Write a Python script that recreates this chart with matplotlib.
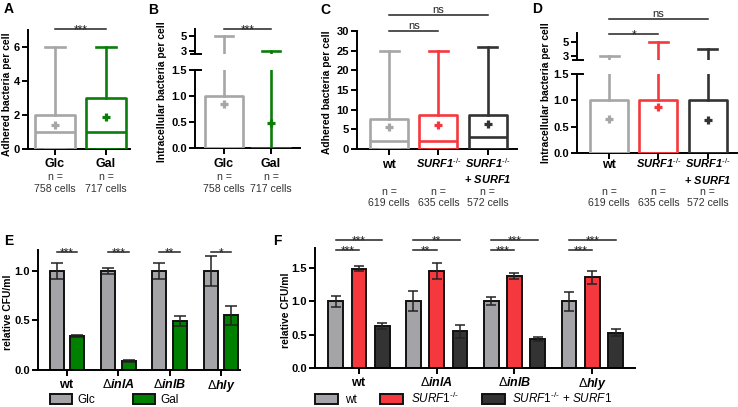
import numpy as np
import matplotlib
matplotlib.use("Agg")
import matplotlib.pyplot as plt
from matplotlib import transforms

plt.rcParams["font.family"] = ["Liberation Sans", "DejaVu Sans"]
plt.rcParams["mathtext.fontset"] = "custom"
plt.rcParams["mathtext.rm"] = "Liberation Sans"
plt.rcParams["mathtext.it"] = "Liberation Sans:italic"
plt.rcParams["mathtext.bf"] = "Liberation Sans:bold"
plt.rcParams["mathtext.bfit"] = "Liberation Sans:italic:bold"
plt.rcParams["axes.linewidth"] = 1.4

# ---- data ----
# A: adhered bacteria, Glc vs Gal
a_groups = ["Glc", "Gal"]
a_n = [758, 717]
a_q1 = [0, 0]
a_med = [1, 1]
a_q3 = [2, 3]
a_lo = [0, 0]
a_hi = [6, 6]
a_mean = [1.4, 1.9]

# B: intracellular bacteria, Glc vs Gal
b_q1 = [0, 0]
b_med = [0, 0]
b_q3 = [1, 0]
b_lo = [0, 0]
b_hi = [5, 3]
b_mean = [0.85, 0.48]

# C: adhered bacteria, wt / SURF1-/- / rescue
c_n = [619, 635, 572]
c_q1 = [0, 0, 0]
c_med = [2, 2, 3]
c_q3 = [7.5, 8.75, 8.75]
c_lo = [0, 0, 0]
c_hi = [25, 25, 26]
c_mean = [5.5, 6.0, 6.4]

# D: intracellular bacteria, wt / SURF1-/- / rescue
d_q1 = [0, 0, 0]
d_med = [0, 0, 0]
d_q3 = [1, 1, 1]
d_lo = [0, 0, 0]
d_hi = [3, 5, 4]
d_mean = [0.65, 0.87, 0.62]

# E: relative CFU/ml, Glc vs Gal
strains = [r"$\mathbf{wt}$", r"$\Delta\mathbfit{inlA}$", r"$\Delta\mathbfit{inlB}$", r"$\Delta\mathbfit{hly}$"]
e_glc = [1.0, 1.0, 1.0, 1.0]
e_glc_err = [0.08, 0.03, 0.08, 0.15]
e_gal = [0.34, 0.09, 0.49, 0.55]
e_gal_err = [0.01, 0.01, 0.05, 0.1]
e_sig = ["***", "***", "**", "*"]

# F: relative CFU/ml, wt / SURF1-/- / rescue
f_wt = [1.0, 1.0, 1.0, 1.0]
f_wt_err = [0.08, 0.15, 0.06, 0.14]
f_ko = [1.49, 1.45, 1.38, 1.36]
f_ko_err = [0.04, 0.12, 0.05, 0.1]
f_res = [0.63, 0.55, 0.44, 0.53]
f_res_err = [0.04, 0.1, 0.03, 0.05]
f_sig_ko = ["***", "**", "***", "***"]
f_sig_res = ["***", "**", "***", "***"]

GRAY = "#a6a6a6"
GREEN = "#0a7d0a"
RED = "#f5383d"
DARK = "#333333"
BAR_GRAY = "#a3a3a8"

W, H = 738, 407
fig = plt.figure(figsize=(W / 100, H / 100), dpi=100)


def add_ax(left, top, right, bottom):
    return fig.add_axes([left / W, 1 - bottom / H, (right - left) / W, (bottom - top) / H])


def style(ax, yticks):
    ax.spines[["top", "right"]].set_visible(False)
    ax.set_yticks(yticks)
    ax.tick_params(width=1.4, length=4.5, labelsize=8, pad=1.5)
    for t in ax.get_yticklabels():
        t.set_fontweight("bold")


def make_stats(q1, med, q3, lo, hi, mean):
    return [dict(q1=a, med=b, q3=c, whislo=d, whishi=e, mean=f)
            for a, b, c, d, e, f in zip(q1, med, q3, lo, hi, mean)]


def draw_boxes(ax, stats, colors, width):
    for i, (s, c) in enumerate(zip(stats, colors)):
        lp = dict(color=c, lw=1.9)
        ax.bxp([s], positions=[i], widths=width, showmeans=True, showfliers=False,
               boxprops=lp, medianprops=lp, whiskerprops=lp, capprops=lp,
               meanprops=dict(marker="+", markeredgecolor=c, markersize=6, markeredgewidth=2.3),
               manage_ticks=False, zorder=3)


def sig(ax, x1, x2, y, s, fs=8.5, dy=-4):
    ax.plot([x1, x2], [y, y], color="#222222", lw=1.1, clip_on=False)
    ax.annotate(s, xy=((x1 + x2) / 2, y), xytext=(0, dy), textcoords="offset pixels",
                ha="center", va="baseline", fontsize=fs, color="#222222", annotation_clip=False)


def col_text(ax, x, ypx, s, **kw):
    tr = transforms.blended_transform_factory(ax.transData, fig.transFigure)
    ax.text(x, 1 - ypx / H, s, transform=tr, ha="center", va="center", **kw)


def break_marks(upper, lower, wpx):
    k = 6 / wpx
    upper.plot([-k * 0.7, k], [0, 0], transform=upper.transAxes, color="k", lw=1.4, clip_on=False)
    lower.plot([0, k], [1, 1], transform=lower.transAxes, color="k", lw=1.4, clip_on=False)
    upper.spines["bottom"].set_visible(False)
    upper.tick_params(axis="x", bottom=False, labelbottom=False)


def ylabel(xpx, ypx, s, size=7.4):
    fig.text(xpx / W, 1 - ypx / H, s, rotation=90, ha="center", va="center",
             fontsize=size, fontweight="bold")


def n_labels(ax, ns, y1, y2):
    for i, n in enumerate(ns):
        col_text(ax, i, y1, "n =", fontsize=7.6, color="#333333")
        col_text(ax, i, y2, f"{n} cells", fontsize=7.6, color="#333333")


# ---- A ----
axA = add_ax(28, 30, 130, 149)
draw_boxes(axA, make_stats(a_q1, a_med, a_q3, a_lo, a_hi, a_mean), [GRAY, GREEN], 0.78)
axA.set_xlim(-0.53, 1.47)
axA.set_ylim(0, 7)
style(axA, [0, 2, 4, 6])
axA.set_xticks([0, 1], ["", ""])
for i, g in enumerate(a_groups):
    col_text(axA, i, 164, g, fontsize=9, fontweight="bold")
n_labels(axA, a_n, 177, 189)
sig(axA, 0, 1, 7.06, "***")
ylabel(7, 94, "Adhered bacteria per cell")

# ---- B ----
bstats = make_stats(b_q1, b_med, b_q3, b_lo, b_hi, b_mean)
axB = add_ax(195, 70, 300, 148.3)
axBu = add_ax(195, 29, 300, 54)
for ax in (axB, axBu):
    draw_boxes(ax, bstats, [GRAY, GREEN], 0.8)
    ax.set_xlim(-0.62, 1.62)
axB.set_ylim(0, 1.5)
axBu.set_ylim(2.6, 5.93)
style(axB, [0, 0.5, 1.0, 1.5])
style(axBu, [3, 5])
axB.set_xticks([0, 1], ["", ""])
break_marks(axBu, axB, 105)
for i, g in enumerate(a_groups):
    col_text(axB, i, 164, g, fontsize=9, fontweight="bold")
n_labels(axB, a_n, 177, 189)
sig(axBu, 0, 1, 5.93, "***")
ylabel(162, 92, "Intracellular bacteria per cell")

# ---- C ----
surf_l1 = r"$\mathbfit{SURF1}^{\text{-/-}}$"
surf_l2 = r"$\mathbf{+}\ \mathbfit{SURF1}$"
axC = add_ax(357, 31, 517, 149)
draw_boxes(axC, make_stats(c_q1, c_med, c_q3, c_lo, c_hi, c_mean), [GRAY, RED, DARK], 0.77)
axC.set_xlim(-0.65, 2.59)
axC.set_ylim(0, 30)
style(axC, [0, 5, 10, 15, 20, 25, 30])
axC.set_xticks([0, 1, 2], ["", "", ""])
col_text(axC, 0, 165, "wt", fontsize=9, fontweight="bold")
col_text(axC, 1, 163, surf_l1, fontsize=8)
col_text(axC, 2, 163, surf_l1, fontsize=8)
col_text(axC, 2, 179, surf_l2, fontsize=8)
n_labels(axC, c_n, 192, 203)
sig(axC, 0, 1, 30, "ns", fs=8, dy=2)
sig(axC, 0, 2, 34.07, "ns", fs=8, dy=2)
ylabel(327, 92, "Adhered bacteria per cell")

# ---- D ----
dstats = make_stats(d_q1, d_med, d_q3, d_lo, d_hi, d_mean)
axD = add_ax(577, 74.3, 737, 152.7)
axDu = add_ax(577, 33, 737, 60)
for ax in (axD, axDu):
    draw_boxes(ax, dstats, [GRAY, RED, DARK], 0.77)
    ax.set_xlim(-0.65, 2.59)
axD.set_ylim(0, 1.5)
axDu.set_ylim(2.44, 6.22)
style(axD, [0, 0.5, 1.0, 1.5])
style(axDu, [3, 5])
axD.set_xticks([0, 1, 2], ["", "", ""])
break_marks(axDu, axD, 160)
col_text(axD, 0, 165, "wt", fontsize=9, fontweight="bold")
col_text(axD, 1, 163, surf_l1, fontsize=8)
col_text(axD, 2, 163, surf_l1, fontsize=8)
col_text(axD, 2, 180, surf_l2, fontsize=8)
n_labels(axD, c_n, 192, 203)
sig(axDu, 0, 1, 6.08, "*")
sig(axDu, 0, 2, 8.17, "ns", fs=8, dy=2)
ylabel(546, 93, "Intracellular bacteria per cell")

# ---- E ----
axE = add_ax(38, 250, 240, 370)
x = np.arange(len(strains))
ekw = dict(elinewidth=1.1, capthick=1.1, ecolor="#222222")
bE1 = axE.bar(x - 0.2, e_glc, 0.27, yerr=e_glc_err, color=BAR_GRAY, edgecolor="#111111",
              linewidth=1.4, capsize=4.5, error_kw=ekw, label="Glc")
bE2 = axE.bar(x + 0.2, e_gal, 0.27, yerr=e_gal_err, color="#008000", edgecolor="#111111",
              linewidth=1.4, capsize=4.5, error_kw=ekw, label="Gal")
axE.set_xlim(-0.565, 3.37)
axE.set_ylim(0, 1.21)
style(axE, [0, 0.5, 1.0])
axE.set_yticklabels(["0.0", "0.5", "1.0"], fontweight="bold")
axE.set_xticks(x, strains, fontsize=9)
for i, s in enumerate(e_sig):
    sig(axE, i - 0.2, i + 0.2, 1.19, s)
axE.legend(handles=[bE1, bE2], loc="center left", bbox_to_anchor=(50 / W, 1 - 400 / H),
           bbox_transform=fig.transFigure, frameon=False, ncol=2, fontsize=8.5,
           borderpad=0, borderaxespad=0, handlelength=1.86, handleheight=0.9,
           handletextpad=0.45, columnspacing=3.2)
ylabel(8, 312, "relative CFU/ml")

# ---- F ----
axF = add_ax(315, 248, 635, 368)
bF1 = axF.bar(x - 0.3, f_wt, 0.19, yerr=f_wt_err, color=BAR_GRAY, edgecolor="#111111",
              linewidth=1.4, capsize=3.8, error_kw=ekw, label="wt")
bF2 = axF.bar(x, f_ko, 0.19, yerr=f_ko_err, color=RED, edgecolor="#111111",
              linewidth=1.4, capsize=3.8, error_kw=ekw, label=r"$\mathit{SURF1}^{\text{-/-}}$")
bF3 = axF.bar(x + 0.3, f_res, 0.19, yerr=f_res_err, color=DARK, edgecolor="#111111",
              linewidth=1.4, capsize=3.8, error_kw=ekw,
              label=r"$\mathit{SURF1}^{\text{-/-}}$ + $\mathit{SURF1}$")
axF.set_xlim(-0.566, 3.55)
axF.set_ylim(0, 1.8)
style(axF, [0, 0.5, 1.0, 1.5])
axF.set_yticklabels(["0.0", "0.5", "1.0", "1.5"], fontweight="bold")
axF.set_xticks(x, strains, fontsize=9)
for i in range(len(strains)):
    sig(axF, i - 0.3, i, 1.77, f_sig_ko[i])
    sig(axF, i - 0.3, i + 0.3, 1.92, f_sig_res[i])
axF.legend(handles=[bF1, bF2, bF3], loc="center left", bbox_to_anchor=(315 / W, 1 - 398.5 / H),
           bbox_transform=fig.transFigure, frameon=False, ncol=3, fontsize=8.5,
           borderpad=0, borderaxespad=0, handlelength=1.95, handleheight=0.9,
           handletextpad=0.6, columnspacing=2.0)
ylabel(286, 310, "relative CFU/ml")

# ---- panel letters ----
for s, xp, yp in [("A", 4, 9), ("B", 148, 10), ("C", 320, 10), ("D", 532, 9),
                  ("E", 4, 241), ("F", 273, 241)]:
    fig.text(xp / W, 1 - yp / H, s, fontsize=10, fontweight="bold", ha="left", va="center")

fig.savefig("out.png", dpi=100)
